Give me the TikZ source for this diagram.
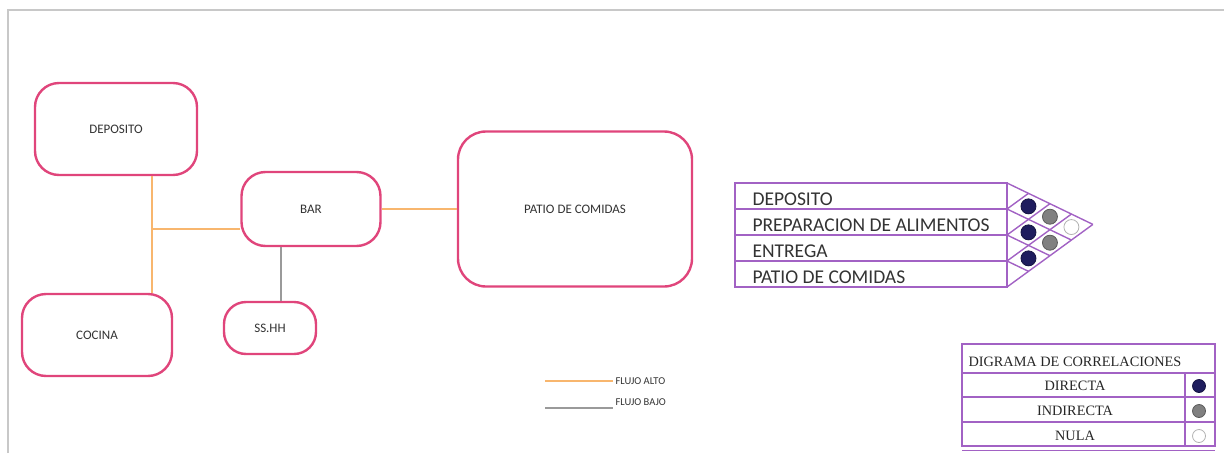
\documentclass[tikz,border=0pt]{standalone}
\usepackage{fontspec}
\setmainfont{Liberation Serif}
\newfontfamily\cuerpo{Carlito}
\usetikzlibrary{positioning,calc}

\definecolor{rosa}{HTML}{E0457B}
\definecolor{naranja}{HTML}{F8B66E}
\definecolor{gris}{HTML}{9A9A9A}
\definecolor{lila}{HTML}{A262C4}
\definecolor{marino}{HTML}{1F1D5E}
\definecolor{medio}{HTML}{808080}
\definecolor{marco}{HTML}{C8C8C8}
\definecolor{texto}{HTML}{333333}

\begin{document}
\begin{tikzpicture}[x=1pt,y=-1pt,line width=1pt,
 area/.style={draw=rosa,line width=2.4pt,rounded corners=24pt,fill=white,font=\cuerpo\fontsize{13}{15}\selectfont,text=texto},
 alto/.style={draw=naranja,line width=2.5pt},
 bajo/.style={draw=gris,line width=2pt},
 leyenda/.style={font=\cuerpo\fontsize{10.5}{12}\selectfont,text=texto,anchor=west,inner sep=2pt},
 fila/.style={font=\cuerpo\fontsize{19.5}{21}\selectfont,text=texto,anchor=west,inner sep=0pt},
 cel/.style={font=\fontsize{14.3}{16}\selectfont,text=black!85,inner sep=0pt},
 punto/.style={circle,draw=#1!70!black,fill=#1,minimum size=15pt,inner sep=0pt,line width=.8pt}]
\useasboundingbox (0,0) rectangle (1224,453);
\draw[marco,line width=2pt] (8,453) -- (8,10) -- (1224,10);

% areas
\node[area,minimum width=162pt,minimum height=92pt] (deposito) at (116,129) {DEPOSITO};
\node[area,minimum width=139pt,minimum height=74pt] (bar) at (311,209) {BAR};
\node[area,minimum width=150pt,minimum height=82pt] (cocina) at (97,335) {COCINA};
\node[area,minimum width=92pt,minimum height=52pt,rounded corners=22pt] (sshh) at (270,328) {SS.HH};
\node[area,minimum width=234pt,minimum height=155pt,rounded corners=28pt] (patio) at (575,209) {PATIO DE COMIDAS};

% flujos
\coordinate (cruce) at (152,229);
\coordinate (baja) at (281,0);
\draw[alto] (deposito.south -| cruce) -- (cocina.north -| cruce);
\draw[alto] (cruce) -- (cruce -| bar.west);
\draw[alto] (bar.east) -- (patio.west);
\draw[bajo] (bar.south -| baja) -- (sshh.north -| baja);

\coordinate (l1) at (545,381);
\coordinate (l2) at (545,408);
\node[leyenda] (fa) at (613,381) {FLUJO ALTO};
\node[leyenda] (fb) at (613,402) {FLUJO BAJO};
\draw[alto] (l1) -- (l1 -| fa.west);
\draw[bajo] (l2) -- (l2 -| fb.west);

% matriz
\foreach \n/\t in {1/DEPOSITO,2/PREPARACION DE ALIMENTOS,3/ENTREGA,4/PATIO DE COMIDAS}{
 \draw[lila,line width=1.4pt] (735,157+26*\n) rectangle (1007,183+26*\n);
 \node[fila] (r\n) at (752,173+26*\n) {\t};
}
\foreach \i in {0,...,4}{
 \foreach \j in {\i,...,4}{
  \coordinate (g\i\j) at ({1007-21.47*\i+21.47*\j},{183+15.65*\i+10.35*\j});
 }
}
\foreach \i in {0,...,4}{
 \draw[lila,line width=1.4pt] (g\i\i) -- (g\i4);
 \draw[lila,line width=1.4pt] (g0\i) -- (g\i\i);
}
\foreach \a/\b/\c in {1/2/marino,2/3/marino,3/4/marino,1/3/medio,2/4/medio,1/4/white}{
 \node[punto=\c] (p\a\b) at ({1007+21.47*(\b-\a)},{183+15.65*(\a-.5)+10.35*(\b-.5)}) {};
}

% leyenda
\draw[lila,line width=1.4pt] (962,344) rectangle (1215,446);
\foreach \y in {373,397,422}{\draw[lila,line width=1.4pt] (962,\y) -- (1215,\y);}
\draw[lila,line width=1.4pt] (1185,373) -- (1185,446);
\draw[lila,line width=1pt] (962,450) -- (1215,450);
\node[cel,anchor=west] (titulo) at (968,362) {DIGRAMA DE CORRELACIONES};
\foreach \n/\t/\c/\y in {1/DIRECTA/marino/386,2/INDIRECTA/medio/411,3/NULA/white/436}{
 \node[cel] (t\n) at (1075,\y) {\t};
 \node[punto=\c,minimum size=13pt] (c\n) at (1199,\y) {};
}
\end{tikzpicture}
\end{document}
